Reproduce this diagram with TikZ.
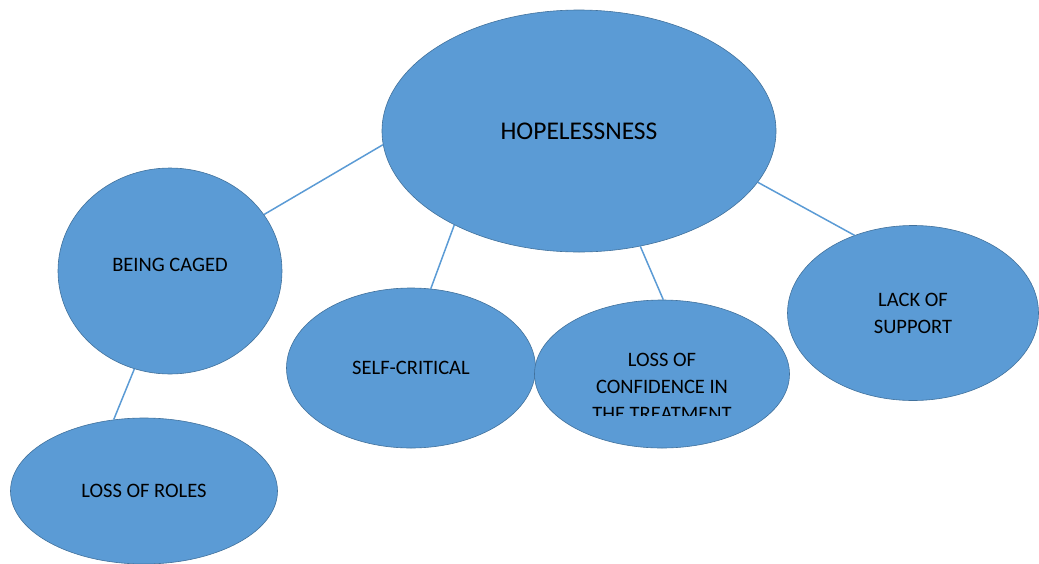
\documentclass[tikz,border=0pt]{standalone}
\usepackage{fontspec}
\setmainfont{Carlito}
\usetikzlibrary{shapes.geometric}
\definecolor{bubblefill}{HTML}{5B9BD5}
\definecolor{bubbleedge}{HTML}{41719C}
\begin{document}
\begin{tikzpicture}[x=1pt,y=-1pt,
  bubble/.style={ellipse,draw=bubbleedge,fill=bubblefill,line width=0.6pt,inner sep=0pt,align=center,font=\fontsize{20.5}{27}\selectfont},
  link/.style={draw=bubblefill,line width=1.5pt}]
\useasboundingbox (0,0) rectangle (1039,563);
\node[bubble,minimum width=394pt,minimum height=242pt,font=\fontsize{25.5}{30}\selectfont] (hope) at (579,131) {HOPELESSNESS};
\node[bubble,minimum width=224pt,minimum height=206pt,text depth=12pt] (caged) at (170,271) {BEING CAGED};
\node[bubble,minimum width=249pt,minimum height=160pt] (selfcrit) at (411,368) {SELF-CRITICAL};
\node[bubble,minimum width=255pt,minimum height=148pt] (conf) at (662,374) {};
\begin{scope}
\clip (535,300) rectangle (790,415);
\node[align=center,font=\fontsize{20.5}{27}\selectfont] (conftxt) at (662,387) {LOSS OF\\CONFIDENCE IN\\THE TREATMENT};
\end{scope}
\node[bubble,minimum width=251pt,minimum height=175pt] (support) at (913,313) {LACK OF\\SUPPORT};
\node[bubble,minimum width=267pt,minimum height=146pt] (roles) at (144,491) {LOSS OF ROLES};
% connectors
\draw[link] (hope.184) -- (caged.31);
\draw[link] (hope.217) -- (selfcrit.76);
\draw[link] (hope.298) -- (conf.89);
\draw[link] (hope.344) -- (support.127);
\draw[link] (caged.250) -- (roles.113);
\end{tikzpicture}
\end{document}
